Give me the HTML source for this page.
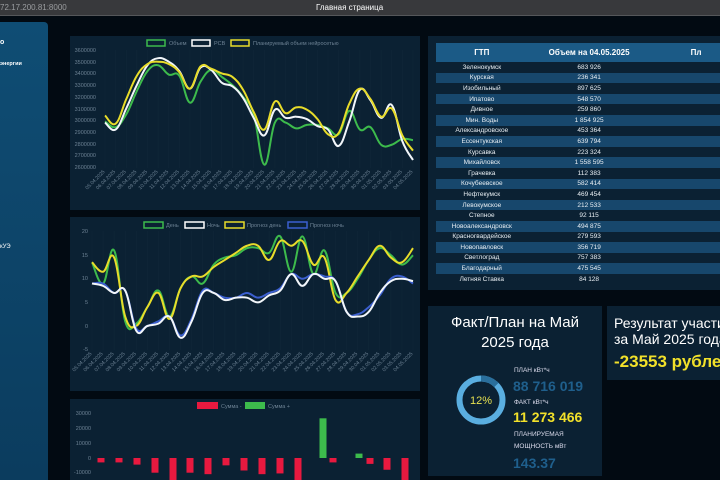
<!DOCTYPE html>
<html><head><meta charset="utf-8"><style>
*{margin:0;padding:0;box-sizing:border-box}
body{width:720px;height:480px;overflow:hidden;background:#020a12;font-family:"Liberation Sans","DejaVu Sans",sans-serif;position:relative}
.abs{position:absolute}
#top{left:0;top:0;width:720px;height:16px;background:#38393c;border-bottom:1px solid #55575a}
#side{left:0;top:22px;width:48px;height:458px;background:linear-gradient(#0f4d74,#0b3c5e);border-radius:0 4px 0 0}
.panel{background:#0b2133}
table{border-collapse:collapse;width:292px;font-size:6.5px;color:#e8eef3}
td{text-align:center;height:10.6px;padding:0}
tr:nth-child(odd) td{background:#17476c}
th{background:#1b5a86;color:#fff;font-size:8px;height:19px}
</style></head><body>
<div id="top" class="abs"><span class="abs" style="left:0;top:3px;font-size:8px;color:#9a9c9f">72.17.200.81:8000</span><span class="abs" style="left:316px;top:3px;font-size:8px;color:#fff">Главная страница</span></div>
<div id="side" class="abs">
<span class="abs" style="left:0;top:17px;font-size:7px;color:#fff;font-weight:bold">о</span>
<span class="abs" style="left:0;top:39px;font-size:5.5px;color:#fff;font-weight:bold">энергии</span>
<span class="abs" style="left:0;top:222px;font-size:6px;color:#fff">кУЭ</span>
</div>
<div class="abs panel" style="left:70px;top:36px;width:350px;height:174px"></div>
<div class="abs panel" style="left:70px;top:217px;width:350px;height:174px"></div>
<div class="abs panel" style="left:70px;top:399px;width:350px;height:81px"></div>
<div class="abs panel" style="left:428px;top:36px;width:292px;height:254px"></div>
<div class="abs" style="left:436px;top:43px">
<table><tr><th>ГТП</th><th>Объем на 04.05.2025</th><th style="text-align:left;padding-left:40px">Пл</th></tr>
<tr><td>Зеленокумск</td><td>683 926</td><td></td></tr>
<tr><td>Курская</td><td>236 341</td><td></td></tr>
<tr><td>Изобильный</td><td>897 625</td><td></td></tr>
<tr><td>Ипатово</td><td>548 570</td><td></td></tr>
<tr><td>Дивное</td><td>259 860</td><td></td></tr>
<tr><td>Мин. Воды</td><td>1 854 925</td><td></td></tr>
<tr><td>Александровское</td><td>453 364</td><td></td></tr>
<tr><td>Ессентукская</td><td>639 794</td><td></td></tr>
<tr><td>Курсавка</td><td>223 324</td><td></td></tr>
<tr><td>Михайловск</td><td>1 558 595</td><td></td></tr>
<tr><td>Грачевка</td><td>112 383</td><td></td></tr>
<tr><td>Кочубеевское</td><td>582 414</td><td></td></tr>
<tr><td>Нефтекумск</td><td>469 454</td><td></td></tr>
<tr><td>Левокумское</td><td>212 533</td><td></td></tr>
<tr><td>Степное</td><td>92 115</td><td></td></tr>
<tr><td>Новоалександровск</td><td>494 875</td><td></td></tr>
<tr><td>Красногвардейское</td><td>279 593</td><td></td></tr>
<tr><td>Новопавловск</td><td>356 719</td><td></td></tr>
<tr><td>Светлоград</td><td>757 383</td><td></td></tr>
<tr><td>Благодарный</td><td>475 545</td><td></td></tr>
<tr><td>Летняя Ставка</td><td>84 128</td><td></td></tr>
</table></div>
<div class="abs panel" style="left:428px;top:306px;width:174px;height:170px"></div>
<div class="abs" style="left:428px;top:313px;width:174px;text-align:center;color:#fff;font-size:15px;line-height:20px">Факт/План на Май<br>2025 года</div>
<svg class="abs" style="left:448px;top:367px" width="68" height="68"><circle cx="33" cy="33" r="21.5" fill="none" stroke="#5aaee0" stroke-width="6"/><path d="M33 11.5 A21.5 21.5 0 0 1 48.4 18" fill="none" stroke="#2a6f9c" stroke-width="6"/><text x="33" y="37" text-anchor="middle" font-size="11" fill="#e5e050" font-family="Liberation Sans">12%</text></svg>
<div class="abs" style="left:514px;top:367px;font-size:6.5px;color:#dde">ПЛАН кВт*ч</div>
<div class="abs" style="left:513px;top:378px;font-size:14px;font-weight:bold;color:#1f5f8c">88 716 019</div>
<div class="abs" style="left:514px;top:399px;font-size:6.5px;color:#dde">ФАКТ кВт*ч</div>
<div class="abs" style="left:513px;top:409px;font-size:14px;font-weight:bold;color:#f2e12a">11 273 466</div>
<div class="abs" style="left:514px;top:429px;font-size:6.5px;color:#dde;line-height:12px">ПЛАНИРУЕМАЯ<br>МОЩНОСТЬ мВт</div>
<div class="abs" style="left:513px;top:455px;font-size:14px;font-weight:bold;color:#1f5f8c">143.37</div>
<div class="abs panel" style="left:607px;top:306px;width:113px;height:74px"></div>
<div class="abs" style="left:614px;top:315px;color:#fff;font-size:14px;line-height:16px;white-space:nowrap">Результат участия<br>за Май 2025 года</div>
<div class="abs" style="left:614px;top:352px;color:#f2e12a;font-size:17px;font-weight:bold;white-space:nowrap">-23553 рублей</div>
<svg class="abs" style="left:0;top:0" width="720" height="480" id="sv" font-family="Liberation Sans" font-size="5.5" fill="#6d8294">
<g id="lbl1">
<text x="96" y="52" text-anchor="end">3600000</text><text x="96" y="64" text-anchor="end">3500000</text><text x="96" y="75" text-anchor="end">3400000</text><text x="96" y="87" text-anchor="end">3300000</text><text x="96" y="99" text-anchor="end">3200000</text><text x="96" y="111" text-anchor="end">3100000</text><text x="96" y="122" text-anchor="end">3000000</text><text x="96" y="134" text-anchor="end">2900000</text><text x="96" y="146" text-anchor="end">2800000</text><text x="96" y="157" text-anchor="end">2700000</text><text x="96" y="169" text-anchor="end">2600000</text>
<text x="88" y="233" text-anchor="end">20</text><text x="88" y="257" text-anchor="end">15</text><text x="88" y="280" text-anchor="end">10</text><text x="88" y="304" text-anchor="end">5</text><text x="88" y="328" text-anchor="end">0</text><text x="88" y="351" text-anchor="end">-5</text>
<text x="91" y="415" text-anchor="end">30000</text><text x="91" y="430" text-anchor="end">20000</text><text x="91" y="445" text-anchor="end">10000</text><text x="91" y="460" text-anchor="end">0</text><text x="91" y="474" text-anchor="end">-10000</text>
<rect x="147" y="40" width="18" height="6" fill="none" stroke="#3dbb4c" stroke-width="1.5"/><text x="169" y="45">Объем</text>
<rect x="192" y="40" width="18" height="6" fill="none" stroke="#fff" stroke-width="1.5"/><text x="214" y="45">РСВ</text>
<rect x="231" y="40" width="18" height="6" fill="none" stroke="#e8dc2a" stroke-width="1.5"/><text x="253" y="45">Планируемый объем нейросетью</text>
<rect x="144" y="222" width="19" height="6" fill="none" stroke="#3dbb4c" stroke-width="1.5"/><text x="166" y="227">День</text>
<rect x="185" y="222" width="19" height="6" fill="none" stroke="#fff" stroke-width="1.5"/><text x="207" y="227">Ночь</text>
<rect x="225" y="222" width="19" height="6" fill="none" stroke="#e8dc2a" stroke-width="1.5"/><text x="247" y="227">Прогноз день</text>
<rect x="288" y="222" width="19" height="6" fill="none" stroke="#3b5fcf" stroke-width="1.5"/><text x="310" y="227">Прогноз ночь</text>
<rect x="197" y="402" width="21" height="7" fill="#e8193f"/><text x="221" y="408">Сумма -</text>
<rect x="245" y="402" width="20" height="7" fill="#3dbb4c"/><text x="268" y="408">Сумма +</text>
</g>
<g id="d1" font-size="5" text-anchor="end">
<text transform="translate(105,172) rotate(-45)">05.04.2025</text><text transform="translate(115.6,172) rotate(-45)">06.04.2025</text><text transform="translate(126.2,172) rotate(-45)">07.04.2025</text><text transform="translate(136.9,172) rotate(-45)">08.04.2025</text><text transform="translate(147.5,172) rotate(-45)">09.04.2025</text><text transform="translate(158.1,172) rotate(-45)">10.04.2025</text><text transform="translate(168.7,172) rotate(-45)">11.04.2025</text><text transform="translate(179.3,172) rotate(-45)">12.04.2025</text><text transform="translate(190,172) rotate(-45)">13.04.2025</text><text transform="translate(200.6,172) rotate(-45)">14.04.2025</text><text transform="translate(211.2,172) rotate(-45)">15.04.2025</text><text transform="translate(221.8,172) rotate(-45)">16.04.2025</text><text transform="translate(232.4,172) rotate(-45)">17.04.2025</text><text transform="translate(243.1,172) rotate(-45)">18.04.2025</text><text transform="translate(253.7,172) rotate(-45)">19.04.2025</text><text transform="translate(264.3,172) rotate(-45)">20.04.2025</text><text transform="translate(274.9,172) rotate(-45)">21.04.2025</text><text transform="translate(285.5,172) rotate(-45)">22.04.2025</text><text transform="translate(296.2,172) rotate(-45)">23.04.2025</text><text transform="translate(306.8,172) rotate(-45)">24.04.2025</text><text transform="translate(317.4,172) rotate(-45)">25.04.2025</text><text transform="translate(328,172) rotate(-45)">26.04.2025</text><text transform="translate(338.6,172) rotate(-45)">27.04.2025</text><text transform="translate(349.3,172) rotate(-45)">28.04.2025</text><text transform="translate(359.9,172) rotate(-45)">29.04.2025</text><text transform="translate(370.5,172) rotate(-45)">30.04.2025</text><text transform="translate(381.1,172) rotate(-45)">01.05.2025</text><text transform="translate(391.7,172) rotate(-45)">02.05.2025</text><text transform="translate(402.4,172) rotate(-45)">03.05.2025</text><text transform="translate(413,172) rotate(-45)">04.05.2025</text>
</g>
<g id="d2" font-size="5" text-anchor="end">
<text transform="translate(92,354) rotate(-45)">05.04.2025</text><text transform="translate(103.1,354) rotate(-45)">06.04.2025</text><text transform="translate(114.1,354) rotate(-45)">07.04.2025</text><text transform="translate(125.2,354) rotate(-45)">08.04.2025</text><text transform="translate(136.3,354) rotate(-45)">09.04.2025</text><text transform="translate(147.3,354) rotate(-45)">10.04.2025</text><text transform="translate(158.4,354) rotate(-45)">11.04.2025</text><text transform="translate(169.5,354) rotate(-45)">12.04.2025</text><text transform="translate(180.6,354) rotate(-45)">13.04.2025</text><text transform="translate(191.6,354) rotate(-45)">14.04.2025</text><text transform="translate(202.7,354) rotate(-45)">15.04.2025</text><text transform="translate(213.8,354) rotate(-45)">16.04.2025</text><text transform="translate(224.8,354) rotate(-45)">17.04.2025</text><text transform="translate(235.9,354) rotate(-45)">18.04.2025</text><text transform="translate(247,354) rotate(-45)">19.04.2025</text><text transform="translate(258,354) rotate(-45)">20.04.2025</text><text transform="translate(269.1,354) rotate(-45)">21.04.2025</text><text transform="translate(280.2,354) rotate(-45)">22.04.2025</text><text transform="translate(291.2,354) rotate(-45)">23.04.2025</text><text transform="translate(302.3,354) rotate(-45)">24.04.2025</text><text transform="translate(313.4,354) rotate(-45)">25.04.2025</text><text transform="translate(324.4,354) rotate(-45)">26.04.2025</text><text transform="translate(335.5,354) rotate(-45)">27.04.2025</text><text transform="translate(346.6,354) rotate(-45)">28.04.2025</text><text transform="translate(357.7,354) rotate(-45)">29.04.2025</text><text transform="translate(368.7,354) rotate(-45)">30.04.2025</text><text transform="translate(379.8,354) rotate(-45)">01.05.2025</text><text transform="translate(390.9,354) rotate(-45)">02.05.2025</text><text transform="translate(401.9,354) rotate(-45)">03.05.2025</text><text transform="translate(413,354) rotate(-45)">04.05.2025</text>
</g>
<g id="gfx"></g>
</svg>
<script>
var NS="http://www.w3.org/2000/svg",g=document.getElementById("gfx");
function el(t,a){var e=document.createElementNS(NS,t);for(var k in a)e.setAttribute(k,a[k]);g.appendChild(e);return e}
for(var i=0;i<30;i++){el("line",{x1:105+i*10.62,x2:105+i*10.62,y1:50,y2:168,stroke:"#12293a","stroke-width":0.5});el("line",{x1:92+i*11.07,x2:92+i*11.07,y1:231,y2:350,stroke:"#12293a","stroke-width":0.5});}
function path(xs,ys,col,w){var d="M"+xs[0]+" "+ys[0];for(var i=0;i<xs.length-1;i++){var p0=i?i-1:i,p3=i+2<xs.length?i+2:i+1;var t=0.2;var c1x=xs[i]+(xs[i+1]-xs[p0])*t,c1y=ys[i]+(ys[i+1]-ys[p0])*t,c2x=xs[i+1]-(xs[p3]-xs[i])*t,c2y=ys[i+1]-(ys[p3]-ys[i])*t;d+=" C"+c1x+" "+c1y+" "+c2x+" "+c2y+" "+xs[i+1]+" "+ys[i+1];}el("path",{d:d,fill:"none",stroke:col,"stroke-width":w||2});}
var x1=[],x2=[];for(var i=0;i<30;i++){x1.push(105+i*10.62);x2.push(92+i*11.07);}
function m1(a){return a.map(function(v){return 50+(3600-v)*0.117})}
function m2(a){return a.map(function(v){return 326-v*4.72})}
path(x1,m1([2990,2940,3050,3250,3420,3470,3390,3380,3150,3330,3430,3370,3300,3200,3050,2620,2980,2980,2930,2960,2960,2930,2880,3080,2920,2940,2790,2790,2840,2830]),"#3dbb4c");
path(x1,m1([2980,2920,3100,3300,3470,3530,3500,3420,3270,3450,3430,3320,3290,3190,3020,2870,3090,3020,3030,3010,2950,2920,2780,2990,3260,3170,3020,3130,2820,2660]),"#f2f6fa");
path(x1,m1([3040,2970,3180,3380,3480,3500,3480,3410,3270,3460,3440,3400,3370,3260,3070,2920,3160,3060,3110,3090,3010,2880,2890,3140,3270,3180,3030,3100,2870,2740]),"#e8dc2a");
path(x2,m2([13.5,9,16,1,0.5,4,7.5,2,8,10.5,9,13,14.5,15,16.5,16.5,15.5,19,11.5,19,11,16,7,7,10,14,16.5,15,13,15]),"#3dbb4c");
path(x2,m2([13.5,11.5,14.5,2,0,4,7,1.5,8,10.5,10.5,12.5,14,15.5,17,17,14,18,17,18,13,14.5,5.5,7,10.5,14,17,14.5,13.5,16.5]),"#e8dc2a");
path(x2,m2([9,9,7,7.5,-0.5,0,1,2,-2,1.5,7.5,7,6,6,7,6,7,8,11,10,11,10.5,9.5,3,2.5,4,6.5,10,10.5,9]),"#3b5fcf");
path(x2,m2([9,8.5,7,7.5,-1,0,0.5,2,-2.5,1,7,7,5.5,6,6,5,6.5,7.5,11,8.5,11,10,9.5,3,2,3,7,9.5,10,9.5]),"#f2f6fa");
var bx=[101,119,137,155,173,190,208,226,244,262,280,298,323,333,359,370,387,405],bv=[-3000,-3000,-4500,-10000,-25000,-10000,-11000,-5000,-8500,-11000,-10500,-20000,27000,-3000,3000,-4000,-8000,-20000];
for(var i=0;i<18;i++){var v=bv[i],h=Math.abs(v)*0.00147;el("rect",{x:bx[i]-3.5,y:v>0?458-h:458,width:7,height:h,fill:v>0?"#3dbb4c":"#e8193f"});}
</script>
</body></html>
